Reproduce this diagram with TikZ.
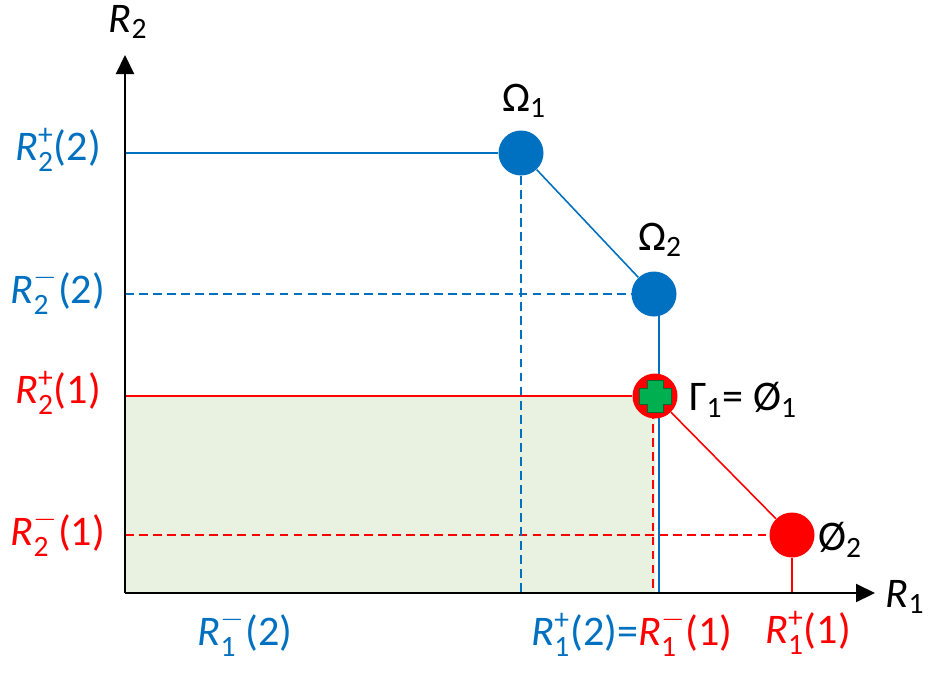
\documentclass[tikz,border=0pt]{standalone}
\usepackage{fontspec}
\usepackage{amsmath}
\setmainfont{Carlito}
\usetikzlibrary{arrows.meta,backgrounds}
\definecolor{rblue}{HTML}{0070C0}
\definecolor{rred}{HTML}{FF0000}
\definecolor{rgreen}{HTML}{00B050}
\definecolor{rfill}{HTML}{E9F1E1}
\newcommand{\Rv}[3]{$\textit{R}_{\text{#1}}^{\text{#2}}$(#3)}

\begin{document}
\begin{tikzpicture}[x=0.02cm,y=-0.02cm,
  font=\fontsize{24}{28}\selectfont,
  dot/.style={circle,minimum size=0.9cm,inner sep=0pt},
  ax/.style={line width=1.2pt,-{Triangle[length=0.38cm,width=0.36cm]}},
  ln/.style={line width=0.9pt},
  dsh/.style={line width=0.9pt,dash pattern=on 5pt off 3pt}]
  \useasboundingbox (0,0) rectangle (933,680);

  \coordinate (O) at (125,593);
  \node[dot,fill=rblue] (om1) at (521,153) {};
  \node[dot,fill=rblue] (om2) at (654,294) {};
  \node[dot,fill=rred] (gam) at (655,396) {};
  \node[dot,fill=rred] (phi2) at (792,535) {};
  % green cross
  \fill[rgreen,draw=black!40!rgreen,line width=0.3pt]
    ([shift={(-8,-16)}]gam.center) -- ++(16,0) -- ++(0,8) -- ++(8,0) -- ++(0,16)
    -- ++(-8,0) -- ++(0,8) -- ++(-16,0) -- ++(0,-8) -- ++(-8,0) -- ++(0,-16)
    -- ++(8,0) -- cycle;

  \begin{scope}[on background layer]
    \fill[rfill] (O) rectangle (gam.center);
    \draw[ln,rblue] (O |- om1) -- (om1);
    \draw[dsh,rblue] (O |- om2) -- (om2);
    \draw[ln,rred] (O |- gam) -- (gam);
    \draw[dsh,rred] (O |- phi2) -- (phi2);
    \draw[dsh,rblue] (om1) -- (om1 |- O);
    \draw[ln,rblue] (om1) -- (om2);
    \draw[ln,rblue] ([xshift=3]om2.center) -- ([xshift=3]om2.center |- O);
    \draw[dsh,rred] ([xshift=-1]gam.center) -- ([xshift=-1]gam.center |- O);
    \draw[ln,rred] (gam) -- (phi2);
    \draw[ln,rred] (phi2) -- (phi2 |- O);
  \end{scope}

  % axes
  \draw[ax] (O) -- (875,593) coordinate (xend);
  \draw[ax] (O) -- (125,55) coordinate (yend);
  \node (r1) at (905,597) {$\textit{R}_{\text{1}}$};
  \node (r2) at (128,22) {$\textit{R}_{\text{2}}$};

  % labels
  \node[rblue] (l22p) at (58,150) {\Rv{2}{+}{2}};
  \node[rblue] (l22m) at (58,291) {\Rv{2}{$-$}{2}};
  \node[rred] (l21p) at (58,393) {\Rv{2}{+}{1}};
  \node[rred] (l21m) at (58,533) {\Rv{2}{$-$}{1}};
  \node[rblue] (l12m) at (245,633) {\Rv{1}{$-$}{2}};
  \node (l12p) at (632,633) {\textcolor{rblue}{\Rv{1}{+}{2}=}\textcolor{rred}{\Rv{1}{$-$}{1}}};
  \node[rred] (l11p) at (808,633) {\Rv{1}{+}{1}};
  \node (tom1) at (524,101) {$\text{Ω}_{\text{1}}$};
  \node (tom2) at (660,240) {$\text{Ω}_{\text{2}}$};
  \node[anchor=west] (tgam) at (683,400) {$\text{Γ}_{\text{1}}$= $\text{Ø}_{\text{1}}$};
  \node[anchor=west] (tphi2) at (812,540) {$\text{Ø}_{\text{2}}$};
\end{tikzpicture}
\end{document}
